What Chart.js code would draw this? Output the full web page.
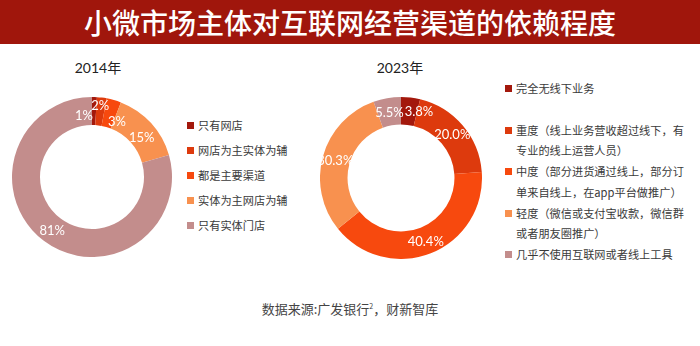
<!DOCTYPE html>
<html>
<head>
<meta charset="utf-8">
<script src="https://cdn.jsdelivr.net/npm/chart.js@4"></script>
<style>
  body { margin: 0; width: 700px; height: 346px; background: #fff; position: relative; overflow: hidden;
         font-family: "Noto Sans CJK SC", "Noto Sans", sans-serif; }
  .bar { position: absolute; left: 0; top: 0; width: 700px; height: 44px; background: #a0160c;
         color: #fff; font-size: 28px; font-weight: 500; text-align: center; line-height: 44px; }
  .year { position: absolute; top: 57px; font-size: 14px; color: #222; width: 100px; text-align: center;
          font-family: Lato, "Noto Sans CJK SC", sans-serif; }
  .chart { position: absolute; }
  .legend { position: absolute; font-size: 11.2px; color: #3a3a3a; margin: 0; padding: 0; list-style: none; }
  .legend li { position: relative; padding-left: 11px; }
  .legend li span.sq { position: absolute; left: 0; width: 7px; height: 7px; }
  #legL li { height: 25px; line-height: 14px; }
  #legL li span.sq { top: 4px; }
  #legR li { line-height: 20.7px; }
  #legR li span.sq { top: 7px; }
  #legR li:first-child { margin-bottom: 21px; }
  .src { position: absolute; top: 299px; left: 0; width: 700px; text-align: center; font-size: 13px; color: #444; }
  .src sup { font-size: 7px; vertical-align: 5px; }
</style>
</head>
<body>
<div class="bar">小微市场主体对互联网经营渠道的依赖程度</div>
<div class="year" style="left:48px">2014年</div>
<div class="year" style="left:350px">2023年</div>
<div class="chart" style="left:12px;top:97px;width:160px;height:160px"><canvas id="c2014"></canvas></div>
<div class="chart" style="left:320px;top:97px;width:162px;height:162px"><canvas id="c2023"></canvas></div>
<ul class="legend" id="legL" style="left:187px;top:118px"></ul>
<ul class="legend" id="legR" style="left:505px;top:78px"></ul>
<div class="src">数据来源:广发银行<sup>2</sup>，财新智库</div>
<script>
const labels2014 = ['只有网店', '网店为主实体为辅', '都是主要渠道', '实体为主网店为辅', '只有实体门店'];
const values2014 = [1, 2, 3, 15, 81];

const labels2023 = [
  ['完全无线下业务'],
  ['重度（线上业务营收超过线下，有', '专业的线上运营人员）'],
  ['中度（部分进货通过线上，部分订', '单来自线上，在app平台做推广）'],
  ['轻度（微信或支付宝收款，微信群', '或者朋友圈推广）'],
  ['几乎不使用互联网或者线上工具']
];
const values2023 = [3.8, 20.0, 40.4, 30.3, 5.5];

const palette = ['#a3180c', '#dd3a0d', '#f7490e', '#f8914f', '#c38d8c'];

const sliceLabels = {
  id: 'sliceLabels',
  afterDatasetsDraw(chart, args, opts) {
    const {ctx} = chart;
    const meta = chart.getDatasetMeta(0);
    const data = chart.data.datasets[0].data;
    ctx.save();
    ctx.font = '13px Lato, "DejaVu Sans", sans-serif';
    ctx.fillStyle = '#fff';
    ctx.textAlign = 'center';
    ctx.textBaseline = 'middle';
    meta.data.forEach((arc, i) => {
      const p = arc.tooltipPosition();
      const n = (opts.nudge && opts.nudge[i]) || [0, 0];
      ctx.fillText(data[i].toFixed(opts.decimals || 0) + '%', p.x + n[0], p.y + n[1]);
    });
    ctx.restore();
  }
};

function donut(id, labels, values, cutout, labelOpts) {
  return new Chart(document.getElementById(id), {
    type: 'doughnut',
    data: {
      labels: labels,
      datasets: [{ data: values, backgroundColor: palette, borderWidth: 0 }]
    },
    options: {
      responsive: true,
      maintainAspectRatio: false,
      animation: false,
      cutout: cutout,
      layout: { padding: 0 },
      plugins: {
        legend: { display: false },
        tooltip: { enabled: false },
        sliceLabels: labelOpts
      }
    },
    plugins: [sliceLabels]
  });
}

donut('c2014', labels2014, values2014, '65%', { decimals: 0, nudge: [[-10, 5], [0, -6], [7, 8], [1, 5], [0, 1]] });
donut('c2023', labels2023, values2023, '66%', { decimals: 1, nudge: [[10, 1], [0, 0], [0, 1], [-1, 1], [0, 1]] });

function buildLegend(elId, labels) {
  const ul = document.getElementById(elId);
  labels.forEach((lab, i) => {
    const li = document.createElement('li');
    const sq = document.createElement('span');
    sq.className = 'sq';
    sq.style.background = palette[i];
    li.appendChild(sq);
    const lines = Array.isArray(lab) ? lab : [lab];
    lines.forEach((t, j) => {
      if (j) li.appendChild(document.createElement('br'));
      li.appendChild(document.createTextNode(t));
    });
    ul.appendChild(li);
  });
}
buildLegend('legL', labels2014);
buildLegend('legR', labels2023);
</script>
</body>
</html>
